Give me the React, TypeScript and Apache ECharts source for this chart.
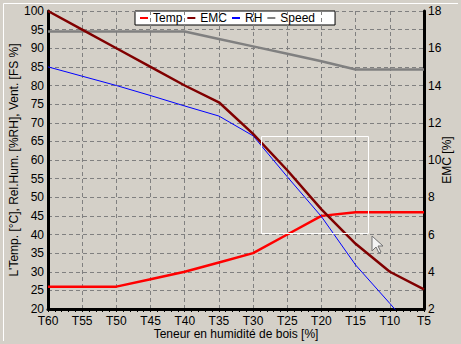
import React, { useEffect, useRef } from "react";
import * as echarts from "echarts";

const moisture = [60, 55, 50, 45, 40, 35, 30, 25, 20, 15, 10, 5];
const tempValues = [26, 26, 26, 28, 30, 32.5, 35, 40, 45, 46, 46, 46];
const emcValues = [18, 17, 16, 15, 14, 13.1, 11.4, 9.45, 7.35, 5.5, 4, 3.05];
const rhValues = [85, 82.5, 80, 77.3, 74.5, 71.8, 66.5, 55.5, 44.8, 31.8, 21.5, 11];
const speedValues = [94.5, 94.5, 94.5, 94.5, 94.5, 92.5, 90.5, 88.5, 86.5, 84.3, 84.3, 84.3];
const seriesNames = ["Temp", "EMC", "RH", "Speed"];

const FONT = "Arial, 'Liberation Sans', sans-serif";

export default function App() {
  const ref = useRef<HTMLDivElement>(null);
  useEffect(() => {
    if (!ref.current) return;
    const chart = echarts.init(ref.current, null, { renderer: "svg" });
    const pairs = (vals: number[]) => moisture.map((m, i) => [m, vals[i]]);
    chart.setOption({
      animation: false,
      backgroundColor: "#D4D0C8",
      textStyle: { fontFamily: FONT },
      grid: { left: 48, right: 37, top: 11, bottom: 35, containLabel: false, outerBoundsMode: "none" },
      legend: {
        data: seriesNames,
        left: 135,
        top: 11,
        z: 0,
        backgroundColor: "#ffffff",
        borderColor: "#000000",
        borderWidth: 1,
        borderRadius: 0,
        padding: [1, 20, 1, 5],
        itemWidth: 8,
        itemHeight: 2,
        itemGap: 5,
        icon: "rect",
        textStyle: { fontSize: 12, color: "#000", fontFamily: FONT, width: 28 },
      },
      xAxis: {
        type: "value",
        min: 5,
        max: 60,
        interval: 5,
        inverse: true,
        z: 1,
        name: "Teneur en humidité de bois [%]",
        nameLocation: "middle",
        nameGap: 19,
        nameMoveOverlap: false,
        nameTextStyle: { fontSize: 12, lineHeight: 12, color: "#000", fontFamily: FONT },
        axisLine: { show: true, onZero: false, lineStyle: { color: "#000", width: 3 } },
        axisTick: { show: true, length: 3, lineStyle: { color: "#000" } },
        minorTick: { show: true, splitNumber: 5, length: 3, lineStyle: { color: "#000" } },
        axisLabel: {
          formatter: (v: number) => "T" + v,
          fontSize: 12,
          lineHeight: 12,
          color: "#000",
          margin: 6,
          fontFamily: FONT,
        },
        splitLine: { show: true, lineStyle: { color: "#808080", type: [4, 3], width: 1 } },
      },
      yAxis: [
        {
          type: "value",
          min: 20,
          max: 100,
          interval: 5,
          z: 1,
          name: "L'Temp. [°C], Rel.Hum. [%RH], Vent. [FS %]",
          nameLocation: "middle",
          nameRotate: 90,
          nameGap: 28,
          nameMoveOverlap: false,
          nameTextStyle: { fontSize: 12, color: "#000", fontFamily: FONT },
          axisLine: { show: true, lineStyle: { color: "#000", width: 3 } },
          axisTick: { show: false },
          axisLabel: { fontSize: 12, color: "#000", margin: 4, fontFamily: FONT },
          splitLine: { show: true, lineStyle: { color: "#808080", type: [4, 3], width: 1 } },
        },
        {
          type: "value",
          min: 2,
          max: 18,
          interval: 2,
          position: "right",
          z: 1,
          name: "EMC [%]",
          nameLocation: "middle",
          nameRotate: 90,
          nameGap: 17,
          nameMoveOverlap: false,
          nameTextStyle: { fontSize: 12, color: "#000", fontFamily: FONT },
          axisLine: { show: true, lineStyle: { color: "#000", width: 3 } },
          axisTick: { show: false },
          axisLabel: { fontSize: 12, color: "#000", margin: 4, fontFamily: FONT },
          splitLine: { show: false },
        },
      ],
      series: [
        {
          name: "Temp",
          type: "line",
          data: pairs(tempValues),
          yAxisIndex: 0,
          showSymbol: false,
          color: "#ff0000",
          lineStyle: { color: "#ff0000", width: 2.5 },
          z: 3,
        },
        {
          name: "EMC",
          type: "line",
          data: pairs(emcValues),
          yAxisIndex: 1,
          showSymbol: false,
          color: "#800000",
          lineStyle: { color: "#800000", width: 2.5 },
          z: 4,
        },
        {
          name: "RH",
          type: "line",
          data: pairs(rhValues),
          yAxisIndex: 0,
          showSymbol: false,
          color: "#0000ff",
          lineStyle: { color: "#0000ff", width: 1 },
          z: 3,
        },
        {
          name: "Speed",
          type: "line",
          data: pairs(speedValues),
          yAxisIndex: 0,
          showSymbol: false,
          color: "#808080",
          lineStyle: { color: "#808080", width: 2.5 },
          z: 2,
        },
      ],
      graphic: [
        {
          type: "line",
          shape: { x1: 3.5, y1: 3.5, x2: 458, y2: 3.5 },
          style: { stroke: "#ffffff", lineWidth: 1 },
          silent: true,
        },
        {
          type: "line",
          shape: { x1: 3.5, y1: 3.5, x2: 3.5, y2: 341 },
          style: { stroke: "#ffffff", lineWidth: 1 },
          silent: true,
        },
        {
          type: "rect",
          shape: { x: 261.5, y: 136.5, width: 107, height: 97 },
          style: { fill: "none", stroke: "#ffffff", lineWidth: 1 },
          z: 10,
          silent: true,
        },
        {
          type: "polygon",
          x: 372,
          y: 236,
          shape: {
            points: [
              [0, 0], [0, 15], [4, 11], [7, 17], [9, 16], [6, 10], [11, 10],
            ],
          },
          style: { fill: "#f4f4f4", stroke: "#707070", lineWidth: 1 },
          z: 11,
          silent: true,
        },
      ],
    });
    return () => chart.dispose();
  }, []);
  return (
    <div
      ref={ref}
      style={{ position: "absolute", left: 0, top: 0, width: 461, height: 344 }}
    />
  );
}
